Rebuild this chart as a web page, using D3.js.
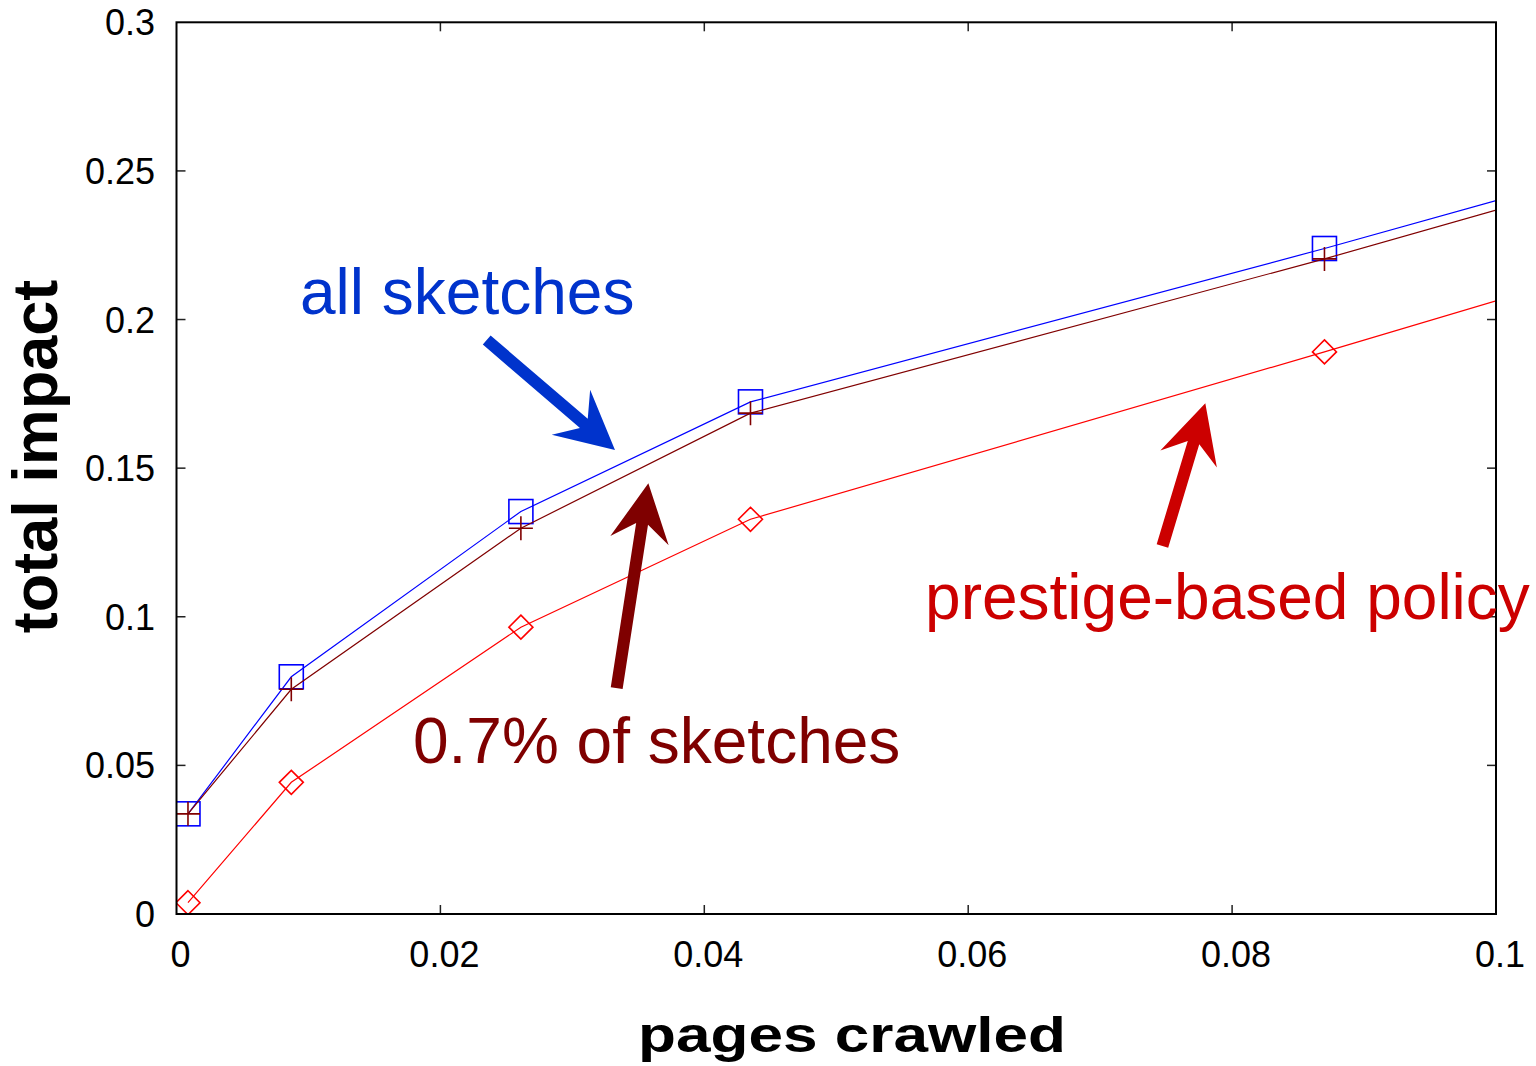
<!DOCTYPE html>
<html>
<head>
<meta charset="utf-8">
<script src="https://cdn.jsdelivr.net/npm/d3@7"></script>
<style>
  html, body { margin: 0; padding: 0; background: #fff; }
  svg { display: block; font-family: "Liberation Sans", Arial, Helvetica, sans-serif; }
</style>
</head>
<body>
<svg id="chart" width="1536" height="1066"></svg>
<script>
// Fraction of pages crawled (the last sample sits on the right border)
const pagesCrawled = [0.00087, 0.0087, 0.0261, 0.0435, 0.0870, 0.1];
// Total impact per policy
const allSketches     = [0.0337, 0.0798, 0.1354, 0.1723, 0.2239, 0.2400];
const partialSketches = [0.0337, 0.0756, 0.1298, 0.1685, 0.2204, 0.2368];
const prestigePolicy  = [0.0038, 0.0443, 0.0965, 0.1328, 0.1891, 0.2063];

const xTicks = [0, 0.02, 0.04, 0.06, 0.08, 0.1];
const yTicks = [0, 0.05, 0.1, 0.15, 0.2, 0.25, 0.3];
const xTickLabels = ["0", "0.02", "0.04", "0.06", "0.08", "0.1"];
const yTickLabels = ["0", "0.05", "0.1", "0.15", "0.2", "0.25", "0.3"];

// Callout labels and arrows, in data units
const calloutLabels = [
  { text: "all sketches",          x: 0.00936, y: 0.2019, color: "#0033cc" },
  { text: "0.7% of sketches",      x: 0.01792, y: 0.0508, color: "#7f0000" },
  { text: "prestige-based policy", x: 0.05673, y: 0.0993, color: "#cc0000" }
];
const calloutArrows = [
  { from: [0.02351, 0.1931], to: [0.03323, 0.1561], color: "#0033cc" },
  { from: [0.03336, 0.0760], to: [0.03576, 0.1449], color: "#7f0000" },
  { from: [0.07472, 0.1238], to: [0.07797, 0.1718], color: "#cc0000" }
];

(function draw() {
  const svg = d3.select("#chart");
  const pLeft = 176.5, pRight = 1496, pTop = 22.3, pBottom = 914;

  const x = d3.scaleLinear().domain([0, 0.1]).range([pLeft, pRight]);
  const y = d3.scaleLinear().domain([0, 0.3]).range([pBottom, pTop]);

  svg.append("defs").append("clipPath").attr("id", "plotClip")
    .append("rect").attr("x", pLeft).attr("y", pTop)
    .attr("width", pRight - pLeft).attr("height", pBottom - pTop);

  // Inward ticks on all four sides
  const tickLen = 9;
  const tickG = svg.append("g").attr("stroke", "#222").attr("stroke-width", 1.5);
  xTicks.slice(1, -1).forEach(v => {
    tickG.append("line").attr("x1", x(v)).attr("x2", x(v)).attr("y1", pBottom).attr("y2", pBottom - tickLen);
    tickG.append("line").attr("x1", x(v)).attr("x2", x(v)).attr("y1", pTop).attr("y2", pTop + tickLen);
  });
  yTicks.slice(1, -1).forEach(v => {
    tickG.append("line").attr("x1", pLeft).attr("x2", pLeft + tickLen).attr("y1", y(v)).attr("y2", y(v));
    tickG.append("line").attr("x1", pRight).attr("x2", pRight - tickLen).attr("y1", y(v)).attr("y2", y(v));
  });

  // Tick labels
  svg.append("g").selectAll("text").data(xTicks).join("text")
    .attr("x", d => x(d) + 4).attr("y", 967)
    .attr("text-anchor", "middle").attr("font-size", 36).attr("fill", "#000")
    .text((d, i) => xTickLabels[i]);
  svg.append("g").selectAll("text").data(yTicks).join("text")
    .attr("x", 155).attr("y", d => y(d) + 13)
    .attr("text-anchor", "end").attr("font-size", 36).attr("fill", "#000")
    .text((d, i) => yTickLabels[i]);

  // Series lines and markers
  const series = [
    { values: allSketches,     color: "#0000ff", marker: "square" },
    { values: partialSketches, color: "#800000", marker: "plus" },
    { values: prestigePolicy,  color: "#ff0000", marker: "diamond" }
  ];
  const line = d3.line().x(d => x(d[0])).y(d => y(d[1]));
  const plot = svg.append("g").attr("clip-path", "url(#plotClip)");

  series.forEach(s => {
    const pts = pagesCrawled.map((p, i) => [p, s.values[i]]);
    plot.append("path").datum(pts).attr("d", line)
      .attr("fill", "none").attr("stroke", s.color).attr("stroke-width", 1.2);
    const inner = pts.filter(p => p[0] < 0.1);
    const g = plot.append("g").attr("fill", "none").attr("stroke", s.color).attr("stroke-width", 1.6);
    const r = 12;
    inner.forEach(p => {
      const cx = x(p[0]), cy = y(p[1]);
      if (s.marker === "square") {
        g.append("rect").attr("x", cx - r).attr("y", cy - r).attr("width", 2 * r).attr("height", 2 * r);
      } else if (s.marker === "plus") {
        g.append("path").attr("d", `M${cx - r},${cy}H${cx + r}M${cx},${cy - r}V${cy + r}`);
      } else {
        g.append("path").attr("d", `M${cx},${cy - r}L${cx + r},${cy}L${cx},${cy + r}L${cx - r},${cy}Z`);
      }
    });
  });

  // Plot frame
  svg.append("rect").attr("x", pLeft).attr("y", pTop)
    .attr("width", pRight - pLeft).attr("height", pBottom - pTop)
    .attr("fill", "none").attr("stroke", "#000").attr("stroke-width", 2);

  // Callout arrows: shaft plus notched filled head
  const headLen = 58, headHalf = 29.5, notch = 41, shaftHalf = 6;
  calloutArrows.forEach(a => {
    const x0 = x(a.from[0]), y0 = y(a.from[1]);
    const x1 = x(a.to[0]),   y1 = y(a.to[1]);
    const L = Math.hypot(x1 - x0, y1 - y0);
    const ux = (x1 - x0) / L, uy = (y1 - y0) / L;
    const nx = -uy, ny = ux;
    const at = (d, w) => [x0 + ux * d + nx * w, y0 + uy * d + ny * w];
    const pts = [
      at(0, shaftHalf), at(L - notch, shaftHalf),
      at(L - headLen, headHalf), at(L, 0), at(L - headLen, -headHalf),
      at(L - notch, -shaftHalf), at(0, -shaftHalf)
    ];
    svg.append("path").attr("d", "M" + pts.map(p => p.join(",")).join("L") + "Z")
      .attr("fill", a.color);
  });

  // Callout labels
  svg.append("g").selectAll("text").data(calloutLabels).join("text")
    .attr("x", d => x(d.x)).attr("y", d => y(d.y))
    .attr("font-size", 64).attr("fill", d => d.color)
    .text(d => d.text);

  // Axis titles
  svg.append("text")
    .attr("x", 852).attr("y", 1052).attr("text-anchor", "middle")
    .attr("font-size", 50).attr("font-weight", "bold")
    .attr("textLength", 428).attr("lengthAdjust", "spacingAndGlyphs")
    .text("pages crawled");
  svg.append("text")
    .attr("transform", "translate(57,456.5) rotate(-90)")
    .attr("text-anchor", "middle")
    .attr("font-size", 63).attr("font-weight", "bold")
    .text("total impact");
})();
</script>
</body>
</html>
